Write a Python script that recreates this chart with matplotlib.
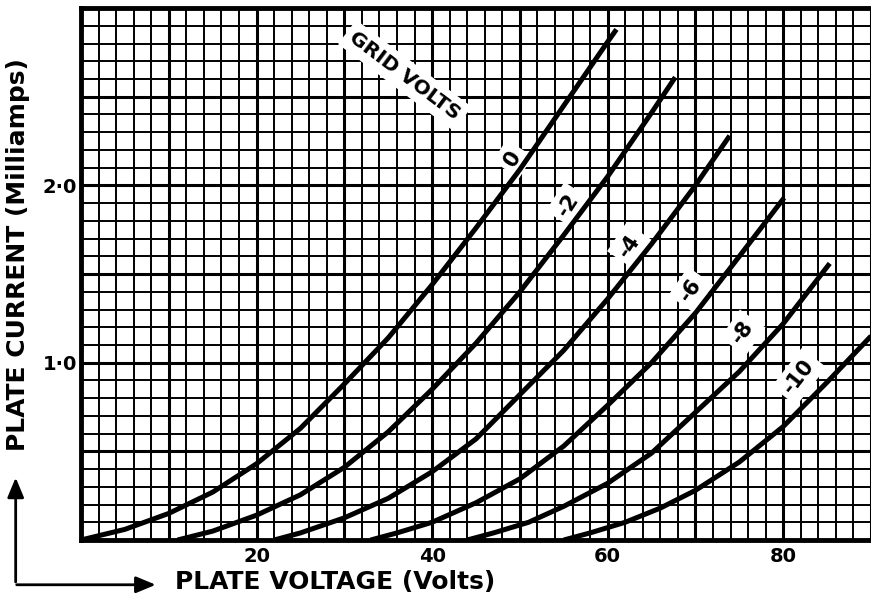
import matplotlib
matplotlib.use("Agg")
import matplotlib.pyplot as plt
from matplotlib.patches import FancyArrowPatch
import numpy as np

# Plate characteristic curves (plate volts, plate current in mA)
grid_volts = ["0", "-2", "-4", "-6", "-8", "-10"]

volts_g0 = [0, 5, 10, 15, 20, 25, 30, 35, 40, 45, 50, 55, 60, 61]
amps_g0 = [0, 0.06, 0.15, 0.27, 0.43, 0.63, 0.88, 1.14, 1.44, 1.76, 2.09, 2.45, 2.81, 2.88]

volts_g2 = [11, 15, 20, 25, 30, 35, 40, 45, 50, 55, 60, 65, 67.7]
amps_g2 = [0, 0.05, 0.14, 0.255, 0.41, 0.61, 0.85, 1.11, 1.40, 1.72, 2.05, 2.41, 2.61]

volts_g4 = [22, 25, 30, 35, 40, 45, 50, 55, 60, 65, 70, 73.9]
amps_g4 = [0, 0.04, 0.125, 0.235, 0.385, 0.57, 0.82, 1.07, 1.36, 1.67, 2.0, 2.28]

volts_g6 = [33, 36, 40, 45, 50, 55, 60, 65, 70, 75, 80.1]
amps_g6 = [0, 0.04, 0.10, 0.21, 0.345, 0.53, 0.76, 1.00, 1.28, 1.60, 1.93]

volts_g8 = [44, 47, 51, 55, 60, 65, 70, 75, 80, 85.3]
amps_g8 = [0, 0.04, 0.10, 0.19, 0.32, 0.49, 0.72, 0.95, 1.22, 1.56]

volts_g10 = [55, 58, 62, 66, 70, 75, 80, 85, 90]
amps_g10 = [0, 0.04, 0.10, 0.18, 0.28, 0.44, 0.64, 0.89, 1.15]

# curve labels, placed just left of each curve
label_volts = [49.2, 55.5, 62.5, 69.5, 75.4, 81.8]
label_amps = [2.15, 1.89, 1.66, 1.41, 1.17, 0.92]
label_rot = [58, 57, 56, 55, 55, 52]

x_tick_labels = {20: "20", 40: "40", 60: "60", 80: "80"}
y_tick_labels = {1.0: "1·0", 2.0: "2·0"}

FONT = "DejaVu Sans"

fig = plt.figure(figsize=(8.71, 6.01), dpi=100)
ax = fig.add_axes([0.093, 0.1015, 0.907, 0.885])

ax.set_xlim(0, 90)
ax.set_ylim(0, 3.0)

# graph-paper grid
x_major = np.arange(0, 91, 10)
y_major = np.arange(0, 3.01, 0.5)
ax.set_xticks(x_major)
ax.set_xticks(np.arange(0, 91, 2), minor=True)
ax.set_yticks(y_major)
ax.set_yticks(np.arange(0, 3.01, 0.1), minor=True)
ax.grid(which="major", color="black", linewidth=2.2)
ax.grid(which="minor", color="black", linewidth=1.4)
ax.set_axisbelow(True)
ax.tick_params(which="both", length=0)
ax.tick_params(axis="x", pad=5)
ax.tick_params(axis="y", pad=3)

ax.set_xticklabels([x_tick_labels.get(int(v), "") for v in x_major],
                   fontsize=14, fontfamily=FONT, fontweight="bold")
ax.set_yticklabels([y_tick_labels.get(round(v, 1), "") for v in y_major],
                   fontsize=14, fontfamily=FONT, fontweight="bold")

for side in ["left", "bottom", "top"]:
    ax.spines[side].set_linewidth(3.5)
ax.spines["right"].set_visible(False)

curves = [
    (volts_g0, amps_g0),
    (volts_g2, amps_g2),
    (volts_g4, amps_g4),
    (volts_g6, amps_g6),
    (volts_g8, amps_g8),
    (volts_g10, amps_g10),
]
for volts, amps in curves:
    ax.plot(volts, amps, color="black", linewidth=3.6, solid_capstyle="butt",
            solid_joinstyle="round", zorder=5)

for text, v, a, rot in zip(grid_volts, label_volts, label_amps, label_rot):
    ax.text(v, a, text, rotation=rot, ha="center", va="center", fontsize=15,
            fontfamily=FONT, fontweight="bold", zorder=4,
            bbox={"facecolor": "white", "edgecolor": "none", "pad": 4})

ax.text(36.9, 2.62, "GRID VOLTS", rotation=-37, ha="center", va="center", fontsize=14.5,
        fontfamily=FONT, fontweight="bold", zorder=4,
        bbox={"facecolor": "white", "edgecolor": "none", "pad": 4})

# axis titles
fig.text(0.021, 0.576, "PLATE CURRENT (Milliamps)", rotation=90, ha="center", va="center",
         fontsize=18, fontfamily=FONT, fontweight="bold")
fig.text(0.2009, 0.032, "PLATE VOLTAGE (Volts)", ha="left", va="center",
         fontsize=18, fontfamily=FONT, fontweight="bold")

# L-shaped direction arrows
fig.patches.append(FancyArrowPatch(
    (0.018, 0.027), (0.018, 0.21), transform=fig.transFigure,
    arrowstyle="-|>,head_length=0.6,head_width=0.25", mutation_scale=20,
    linewidth=2, color="black"))
fig.patches.append(FancyArrowPatch(
    (0.016, 0.027), (0.182, 0.027), transform=fig.transFigure,
    arrowstyle="-|>,head_length=0.6,head_width=0.25", mutation_scale=20,
    linewidth=2, color="black"))

fig.savefig("out.png", dpi=100, facecolor="white")
